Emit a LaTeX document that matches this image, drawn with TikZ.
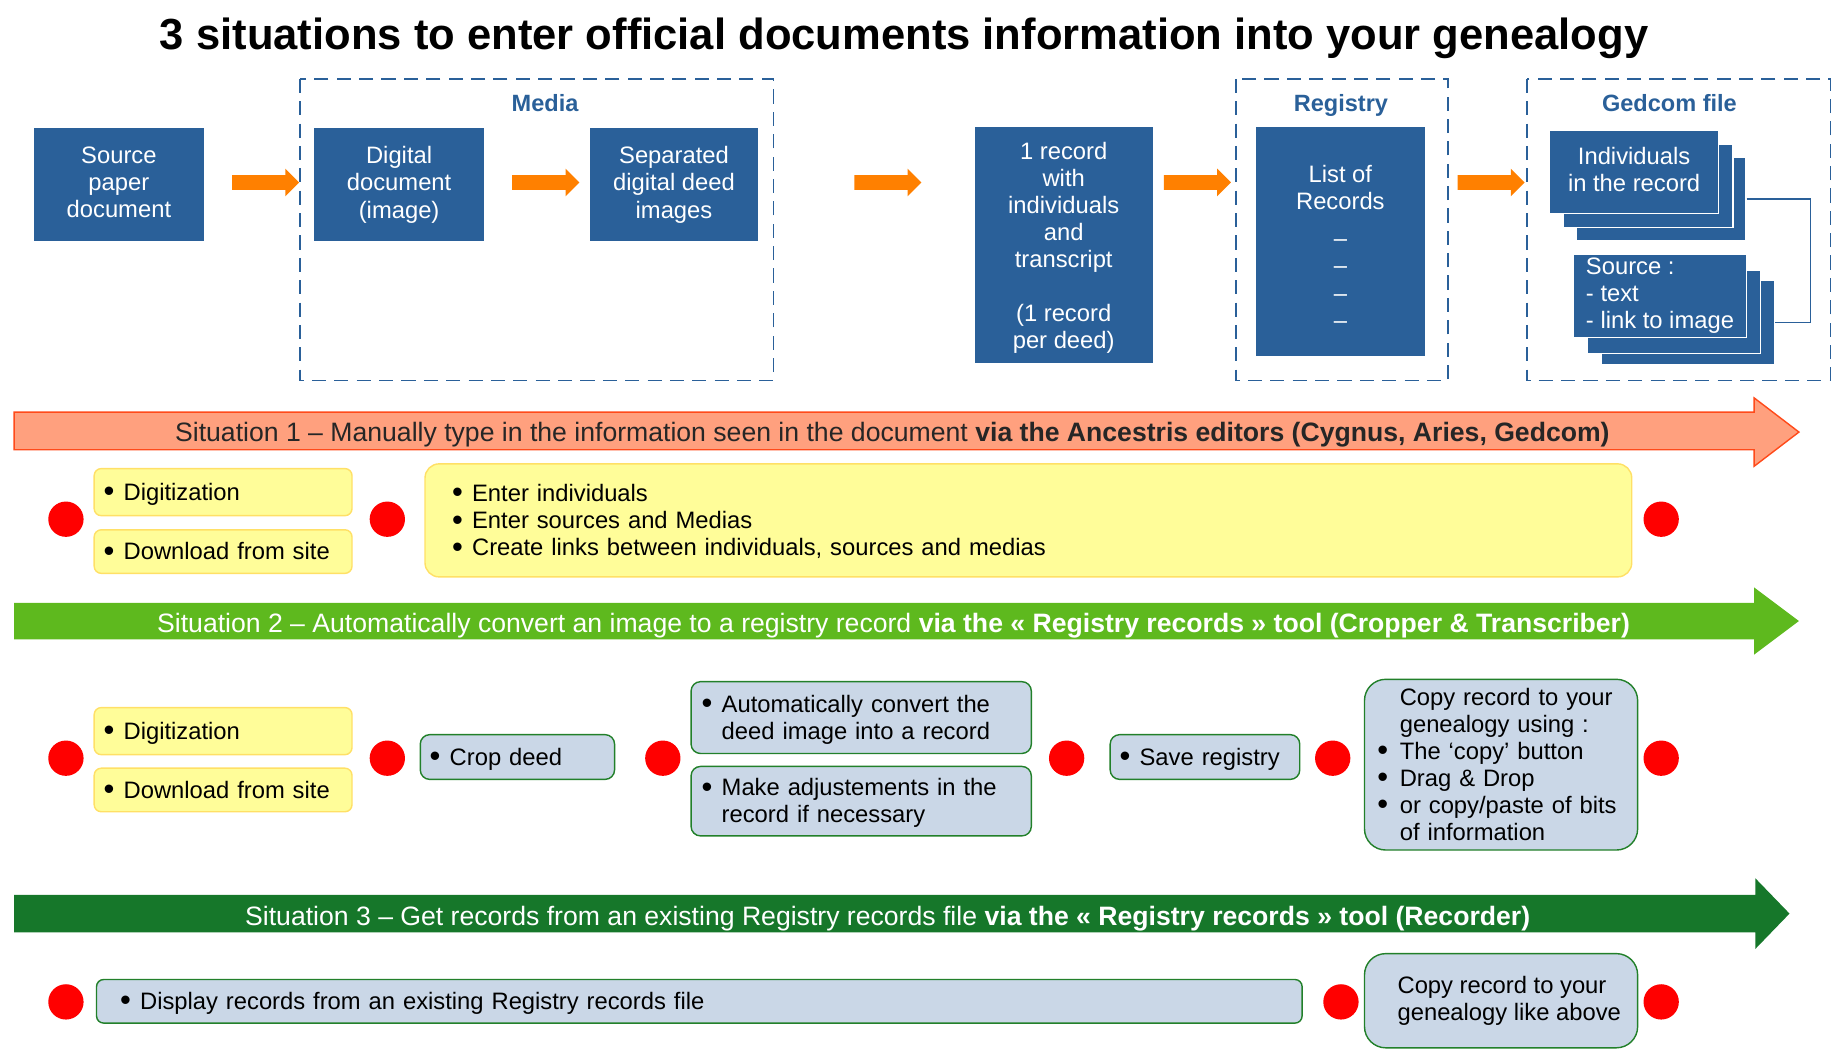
\documentclass[tikz,border=0pt]{standalone}
\usepackage{fontspec}
\setmainfont{Liberation Sans}
\usetikzlibrary{shapes,shapes.arrows,calc}
\definecolor{deedblue}{HTML}{2A6099}
\definecolor{arroworange}{HTML}{FF8000}
\definecolor{salmon}{HTML}{FFA07E}
\definecolor{brick}{HTML}{FF4A1A}
\definecolor{limegreen}{HTML}{5EB91E}
\definecolor{darkgreen}{HTML}{16772A}
\definecolor{paleyellow}{HTML}{FFFD99}
\definecolor{yellowline}{HTML}{FFE066}
\definecolor{paleblue}{HTML}{CAD7E7}
\definecolor{boxgreen}{HTML}{22802A}
\newcommand{\ls}{\rule[-0.212em]{0pt}{1.117em}}
\newcommand{\itm}[1][17pt]{\makebox[#1][l]{\smash{\raisebox{-0.06em}{\scalebox{1.3}{•}}}}}
\tikzstyle{txt}=[execute at begin node=\ls, execute at end node=\ls]
\tikzstyle{blue box}=[txt, rectangle, fill=deedblue, text=white, align=center, inner sep=0pt]
\tikzstyle{stack box}=[txt, rectangle, fill=deedblue, draw=white, line width=1, text=white, inner sep=0pt, minimum width=144, minimum height=71]
\tikzstyle{frame}=[draw=deedblue, line width=1.3, dash pattern=on 12 off 7]
\tikzstyle{frame label}=[txt, text=deedblue, font=\fontsize{20}{24}\selectfont\bfseries]
\tikzstyle{orange arrow}=[single arrow, fill=arroworange, inner sep=6, minimum height=57, single arrow head extend=5.5]
\tikzstyle{band text}=[txt, font=\fontsize{22.6}{26}\selectfont]
\tikzstyle{yellow box}=[txt, rectangle, rounded corners=6, fill=paleyellow, draw=yellowline, line width=1.2, align=left, inner ysep=0pt]
\tikzstyle{light box}=[txt, rectangle, rounded corners=8, fill=paleblue, draw=boxgreen, line width=1.2, align=left, inner ysep=0pt]
\tikzstyle{red dot}=[circle, fill=red, minimum size=30, inner sep=0pt]
\begin{document}
\begin{tikzpicture}[x=1pt, y=-1pt, every node/.style={font=\fontsize{20.2}{23}\selectfont}]
\useasboundingbox (0,0) rectangle (1568,898);
\node[txt, font=\fontsize{37}{42}\selectfont\bfseries] (title) at (768,29) {3 situations to enter official documents information into your genealogy};
% frames
\draw[frame] (255,67) rectangle (657,323);
\draw[frame] (1050,67) rectangle (1230,323);
\draw[frame] (1297,67) rectangle (1555,323);
\node[frame label] (media) at (463,88) {Media};
\node[frame label] (registry) at (1139,88) {Registry};
\node[frame label] (gedcom) at (1418,88) {Gedcom file};
% top row
\node[blue box, minimum width=144, minimum height=96] (paper) at (101,157) {Source\\paper\\document};
\node[blue box, minimum width=144, minimum height=96] (digital) at (339,157) {Digital\\document\\(image)};
\node[blue box, minimum width=143, minimum height=96] (deeds) at (572.5,157) {Separated\\digital deed\\images};
\node[blue box, minimum width=151, minimum height=200] (record) at (903.5,208) {};
\node[txt, text=white, align=center] at ($(record)+(0,2.5)$) {1 record\\with\\individuals\\and\\transcript\\[23pt](1 record\\per deed)};
\node[blue box, minimum width=143, minimum height=194] (list) at (1138.5,205) {};
\node[txt, text=white, align=center] at ($(list)+(0,6.5)$) {List of\\Records\\[9pt]–\\–\\–\\–};
\node[orange arrow] (a1) at (222.5,155) {};
\node[orange arrow] (a2) at (460.5,155) {};
\node[orange arrow] (a3) at (751,155) {};
\node[orange arrow] (a4) at (1014,155) {};
\node[orange arrow] (a5) at (1263.5,155) {};
% gedcom stacks
\node[stack box] (ind3) at (1411,169) {};
\node[stack box] (ind2) at (1400,158) {};
\node[stack box, align=center] (ind1) at (1388,146) {Individuals\\in the record};
\node[stack box, minimum width=147] (src3) at (1434,274) {};
\node[stack box, minimum width=147] (src2) at (1422,265) {};
\node[stack box, minimum width=147, align=left, inner xsep=10] (src1) at (1410,251.5) {Source :\\- text\\- link to image};
\draw[deedblue, line width=1] (ind3.east) -- ++(54,0) |- (src3.east);
% situation 1
\filldraw[fill=salmon, draw=brick, line width=1.2] (12,350) -- (1490,350) -- (1490,338) -- (1528,367) -- (1490,396) -- (1490,382) -- (12,382) -- cycle;
\node[band text, text=black!85] (sit1) at (758,367) {Situation 1 – Manually type in the information seen in the document \textbf{via the Ancestris editors (Cygnus, Aries, Gedcom)}};
\node[yellow box, text width=203, inner xsep=8, minimum height=40] (dig1) at (189.5,418) {\itm Digitization};
\node[yellow box, text width=203, inner xsep=8, minimum height=37] (dl1) at (189.5,468.5) {\itm Download from site};
\node[yellow box, rounded corners=12, text width=979, inner xsep=23, minimum height=96] (edit) at (873.5,442) {\itm Enter individuals\\\itm Enter sources and Medias\\\itm Create links between individuals, sources and medias};
\node[red dot] (d11) at (56,441) {};
\node[red dot] (d12) at (329,441) {};
\node[red dot] (d13) at (1411,441) {};
% situation 2
\fill[limegreen] (12,512) -- (1490,512) -- (1490,499) -- (1528,527.5) -- (1490,556) -- (1490,543) -- (12,543) -- cycle;
\node[band text, text=white] (sit2) at (759,529) {Situation 2 – Automatically convert an image to a registry record \textbf{via the « Registry records » tool (Cropper \& Transcriber)}};
\node[yellow box, text width=203, inner xsep=8, minimum height=40] (dig2) at (189.5,621) {\itm Digitization};
\node[yellow box, text width=203, inner xsep=8, minimum height=37] (dl2) at (189.5,671) {\itm Download from site};
\node[light box, text width=149, inner xsep=8, minimum height=38] (crop) at (439.5,643) {\itm Crop deed};
\node[light box, text width=271, inner xsep=9, minimum height=61] (conv) at (731.5,609.5) {\itm Automatically convert the\\\hspace*{17pt}deed image into a record};
\node[light box, text width=271, inner xsep=9, minimum height=59] (adj) at (731.5,680.5) {\itm Make adjustements in the\\\hspace*{17pt}record if necessary};
\node[light box, text width=145, inner xsep=8, minimum height=38] (save) at (1023.5,643) {\itm Save registry};
\node[light box, rounded corners=18, text width=210, inner xsep=11, minimum height=145] (copy) at (1275,649.5) {\hspace*{19pt}Copy record to your\\\hspace*{19pt}genealogy using :\\\itm[19pt]The ‘copy’ button\\\itm[19pt]Drag \& Drop\\\itm[19pt]or copy/paste of bits\\\hspace*{19pt}of information};
\foreach \x [count=\i] in {56,329,563,906,1132,1411}
  \node[red dot] (d2\i) at (\x,644) {};
% situation 3
\fill[darkgreen] (12,760) -- (1491,760) -- (1491,746) -- (1520,776) -- (1491,806) -- (1491,792) -- (12,792) -- cycle;
\node[band text, text=white] (sit3) at (754,778) {Situation 3 – Get records from an existing Registry records file \textbf{via the « Registry records » tool (Recorder)}};
\node[light box, rounded corners=6, text width=984, inner xsep=20, minimum height=37] (disp) at (594,850.5) {\itm Display records from an existing Registry records file};
\node[light box, rounded corners=18, minimum width=232, minimum height=80] (like) at (1275,850) {\hspace*{14pt}Copy record to your\\\hspace*{14pt}genealogy like above};
\node[red dot] (d31) at (56,851) {};
\node[red dot] (d32) at (1139,851) {};
\node[red dot] (d33) at (1411,851) {};
\end{tikzpicture}
\end{document}
